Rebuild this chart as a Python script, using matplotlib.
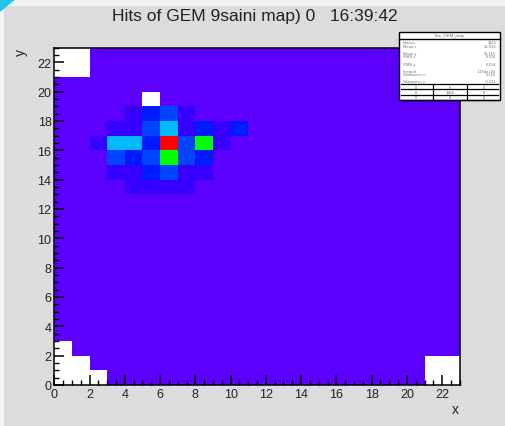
import numpy as np
import matplotlib
matplotlib.use("Agg")
import matplotlib.pyplot as plt
from matplotlib.colors import LinearSegmentedColormap, hsv_to_rgb
from matplotlib.patches import Rectangle, Polygon
from matplotlib.ticker import MultipleLocator

plt.rcParams['font.family'] = ['Liberation Sans', 'DejaVu Sans']

# hit map, 23 x 23 strips
n_bins = 23
background_count = 2

# cluster cells (x bin, y bin, hits)
hit_x = [4, 5, 6, 7,
         3, 4, 5, 6, 7, 8, 9, 10,
         2, 3, 4, 5, 6, 7, 8, 9,
         3, 4, 5, 6, 7, 8,
         3, 4, 5, 6, 7, 8,
         4, 5, 6, 7]
hit_y = [18, 18, 18, 18,
         17, 17, 17, 17, 17, 17, 17, 17,
         16, 16, 16, 16, 16, 16, 16, 16,
         15, 15, 15, 15, 15, 15,
         14, 14, 14, 14, 14, 14,
         13, 13, 13, 13]
hit_n = [3, 5, 6, 3,
         3, 3, 6, 9, 3, 5, 3, 5,
         3, 9, 9, 5, 30, 6, 17, 3,
         6, 5, 6, 17, 6, 5,
         3, 3, 5, 6, 3, 3,
         3, 3, 3, 3]

# dead cells (no hits)
empty_x = [0, 1, 0, 1, 21, 22, 21, 22, 0, 0, 0, 1, 1, 2, 21, 22, 21, 22, 5]
empty_y = [21, 21, 22, 22, 21, 21, 22, 22, 0, 1, 2, 0, 1, 0, 0, 0, 1, 1, 19]

title = "Hits of GEM 9saini map) 0   16:39:42"

grid = np.full((n_bins, n_bins), float(background_count))
for x, y, n in zip(hit_x, hit_y, hit_n):
    grid[y, x] = n
for x, y in zip(empty_x, empty_y):
    grid[y, x] = 0
masked = np.ma.masked_equal(grid, 0)

# ROOT-like rainbow palette (purple -> red)
hues = np.linspace(280, 0, 256) / 360.0
rgb = hsv_to_rgb(np.column_stack([hues, np.ones(256), np.ones(256)]))
cmap = LinearSegmentedColormap.from_list("root_rainbow", rgb)

fig = plt.figure(figsize=(5.06, 4.27), dpi=100, facecolor="#dcdcdc")
W, H = 506, 427

# light border strips and the little cyan corner of the screenshot
fig.patches.append(Rectangle((0, 0), 4 / W, 1, transform=fig.transFigure,
                             facecolor="#f4f4f4", edgecolor="none", zorder=0))
fig.patches.append(Rectangle((0, 1 - 7 / H), 1, 7 / H, transform=fig.transFigure,
                             facecolor="#f4f4f4", edgecolor="none", zorder=0))
fig.patches.append(Polygon([(0, 1), (16 / W, 1), (0, 1 - 13 / H)], closed=True,
                           transform=fig.transFigure, facecolor="#22c4ee",
                           edgecolor="none", zorder=1))

ax = fig.add_axes([54.3 / W, 41 / H, 405.5 / W, 337.5 / H])
ax.set_facecolor("white")
edges = np.arange(n_bins + 1)
ax.pcolormesh(edges, edges, masked, cmap=cmap, vmin=0, vmax=30)
ax.set_xlim(0, n_bins)
ax.set_ylim(0, n_bins)

for s in ax.spines.values():
    s.set_linewidth(1.1)
    s.set_color("black")
ax.xaxis.set_major_locator(MultipleLocator(2))
ax.yaxis.set_major_locator(MultipleLocator(2))
ax.xaxis.set_minor_locator(MultipleLocator(0.5))
ax.yaxis.set_minor_locator(MultipleLocator(0.5))
ax.tick_params(which="major", direction="in", length=7, width=1.1,
               labelsize=9, labelcolor="#222222", pad=2)
ax.tick_params(which="minor", direction="in", length=3.5, width=1.0)
ax.tick_params(top=False, right=False)

fig.text(255 / W, 1 - 17 / H, title, ha="center", va="center",
         fontsize=12.5, color="#222222")
fig.text(455 / W, 1 - 410 / H, "x", ha="center", va="center",
         fontsize=10, color="#222222")
fig.text(21 / W, 1 - 52 / H, "y", ha="center", va="center",
         fontsize=10, color="#222222", rotation=90)

# stats box
entries = grid.sum()
cx = (np.arange(n_bins) + 0.5)
wx = grid.sum(axis=0)
wy = grid.sum(axis=1)
mean_x = (cx * wx).sum() / entries
mean_y = (cx * wy).sum() / entries
rms_x = np.sqrt((wx * (cx - mean_x) ** 2).sum() / entries)
rms_y = np.sqrt((wy * (cx - mean_y) ** 2).sum() / entries)
skew_x = (wx * (cx - mean_x) ** 3).sum() / entries / rms_x ** 3
skew_y = (wy * (cx - mean_y) ** 3).sum() / entries / rms_y ** 3

bx0, bx1 = 399 / W, 500 / W
by_top, by_bot = 1 - 33 / H, 1 - 101 / H
fig.patches.append(Rectangle((bx0, by_bot), bx1 - bx0, by_top - by_bot,
                             transform=fig.transFigure, facecolor="white",
                             edgecolor="black", linewidth=1.0, zorder=5))
title_bot = 1 - 40 / H
fig.add_artist(plt.Line2D([bx0, bx1], [title_bot, title_bot],
                          transform=fig.transFigure, color="black", lw=1.0, zorder=6))
fig.text((bx0 + bx1) / 2, 1 - 36.5 / H, "hits_GEM_map", ha="center", va="center",
         fontsize=3.2, color="#666666", zorder=7)

stat_rows = [("Entries", "%d" % entries), ("Mean x", "%.3f" % mean_x),
             ("Mean y", "%.3f" % mean_y), ("RMS x", "%.3f" % rms_x),
             ("RMS y", "%.3f" % rms_y), ("Integral", "%.3e" % entries),
             ("Skewness x", "%.3f" % skew_x), ("Skewness y", "%.3f" % skew_y)]
row_y = [43, 47, 54, 57.5, 65, 72, 75.5, 82]
for (name, val), ry in zip(stat_rows, row_y):
    fig.text(bx0 + 4 / W, 1 - ry / H, name, ha="left", va="center",
             fontsize=3.0, color="#777777", zorder=7)
    fig.text(bx1 - 4 / W, 1 - ry / H, val, ha="right", va="center",
             fontsize=3.0, color="#777777", zorder=7)

# under/overflow table
grid_top = 1 - 85 / H
row_h = 5.3 / H
for i in range(4):
    yy = grid_top - i * row_h
    fig.add_artist(plt.Line2D([bx0 + 2 / W, bx1 - 2 / W], [yy, yy],
                              transform=fig.transFigure, color="black", lw=0.9, zorder=6))
for xx in [bx0 + 34 / W, bx0 + 68 / W]:
    fig.add_artist(plt.Line2D([xx, xx], [grid_top, grid_top - 3 * row_h],
                              transform=fig.transFigure, color="black", lw=0.9, zorder=6))
cells = [["0", "0", "0"], ["0", "%d" % entries, "0"], ["0", "0", "0"]]
for i, row in enumerate(cells):
    for j, val in enumerate(row):
        fig.text(bx0 + (17 + 34 * j) / W, grid_top - (i + 0.5) * row_h, val,
                 ha="center", va="center", fontsize=2.8,
                 color="#5544aa" if i == 2 else "#666666", zorder=7)

fig.savefig("out.png", dpi=100, facecolor=fig.get_facecolor())
